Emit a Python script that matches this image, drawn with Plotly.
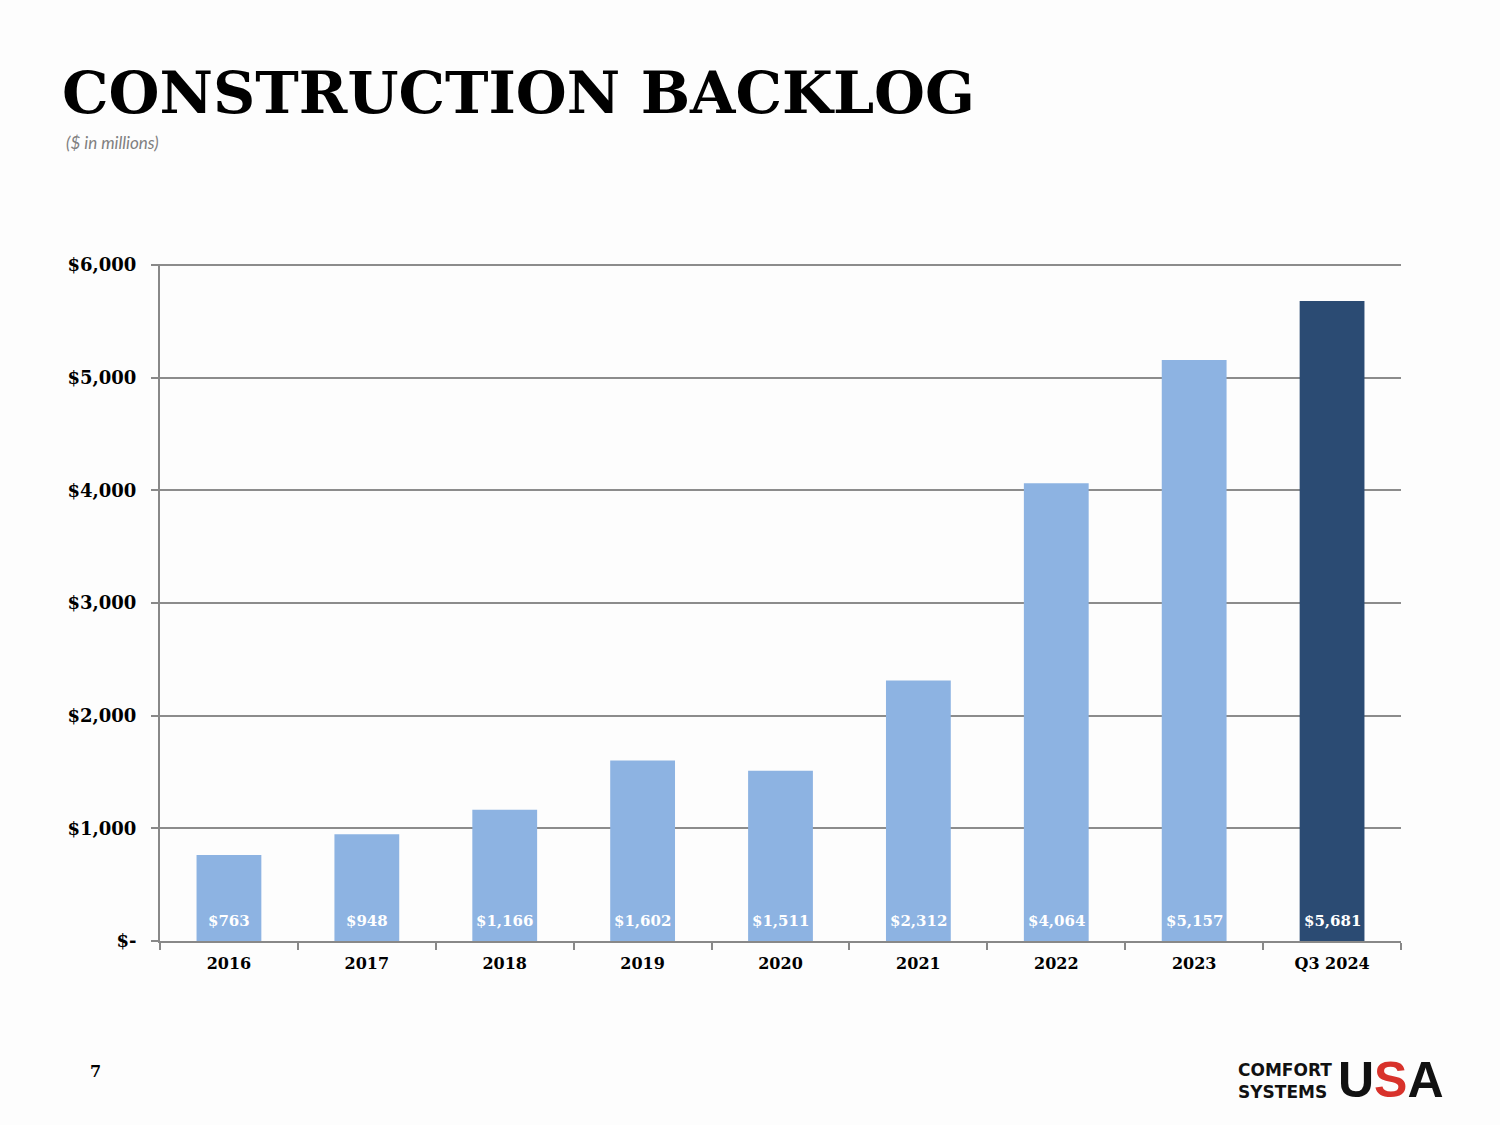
import plotly.graph_objects as go

categories = ["2016", "2017", "2018", "2019", "2020", "2021", "2022", "2023", "Q3 2024"]
backlog = [763, 948, 1166, 1602, 1511, 2312, 4064, 5157, 5681]
value_labels = ["$763", "$948", "$1,166", "$1,602", "$1,511", "$2,312", "$4,064", "$5,157", "$5,681"]
y_ticks = [0, 1000, 2000, 3000, 4000, 5000, 6000]
y_tick_labels = ["$-", "$1,000", "$2,000", "$3,000", "$4,000", "$5,000", "$6,000"]

LIGHT = "#8DB3E2"
DARK = "#2B4B73"
bar_colors = [LIGHT] * (len(categories) - 1) + [DARK]

SERIF = "DejaVu Serif"
L, R, T, B = 160, 99, 264, 184
PW, PH = 1500 - L - R, 1125 - T - B

fig = go.Figure()
fig.add_trace(go.Bar(
    x=categories, y=backlog, marker=dict(color=bar_colors, line=dict(width=0)),
    hoverinfo="x+y", showlegend=False,
))

for i, lab in enumerate(value_labels):
    fig.add_annotation(x=i, y=0, xref="x", yref="y", text=lab,
                       showarrow=False, yanchor="middle", yshift=20,
                       font=dict(family=SERIF, size=15, color="white", weight="bold"))

fig.update_layout(
    width=1500, height=1125,
    paper_bgcolor="#FDFDFD", plot_bgcolor="#FDFDFD",
    margin=dict(l=L, r=R, t=T, b=B),
    bargap=0.53,
    font=dict(family=SERIF, color="black"),
    xaxis=dict(
        type="category", showline=True, linecolor="#888888", linewidth=2,
        ticks="outside", tickson="boundaries", ticklen=7, tickcolor="#888888", tickwidth=2,
        tickfont=dict(family=SERIF, size=16, color="black", weight="bold"),
        showgrid=False, ticklabelstandoff=7,
    ),
    yaxis=dict(
        range=[0, 6010], tickvals=y_ticks, ticktext=y_tick_labels,
        showline=True, linecolor="#888888", linewidth=2,
        ticks="outside", ticklen=7, tickcolor="#888888", tickwidth=2,
        showgrid=True, gridcolor="#8C8C8C", gridwidth=1.5,
        tickfont=dict(family=SERIF, size=18, color="black", weight="bold"),
        zeroline=False, ticklabelstandoff=11,
    ),
)

def px(xp):
    return (xp - L) / PW

def py(yp):
    return (1125 - B - yp) / PH

# Title and subtitle
fig.add_annotation(xref="paper", yref="paper", x=px(60), y=py(92),
                   text="CONSTRUCTION BACKLOG", showarrow=False,
                   xanchor="left", yanchor="middle",
                   font=dict(family=SERIF, size=58.5, color="black", weight="bold"))
fig.add_annotation(xref="paper", yref="paper", x=px(64), y=py(142),
                   text="<i>($ in millions)</i>", showarrow=False,
                   xanchor="left", yanchor="middle",
                   font=dict(family="Lato", size=17, color="#808080"))

# page number
fig.add_annotation(xref="paper", yref="paper", x=px(95), y=py(1071),
                   text="7", showarrow=False, xanchor="center", yanchor="middle",
                   font=dict(family=SERIF, size=16, color="black", weight="bold"))

# logo
fig.add_annotation(xref="paper", yref="paper", x=px(1334), y=py(1081),
                   text="COMFORT<br>SYSTEMS", showarrow=False, xanchor="right", yanchor="middle",
                   align="left",
                   font=dict(family="DejaVu Sans", size=17, color="#111111", weight="bold"))
fig.add_annotation(xref="paper", yref="paper", x=px(1336), y=py(1080),
                   text="U<span style='color:#D8322B'>S</span>A", showarrow=False,
                   xanchor="left", yanchor="middle",
                   font=dict(family="Liberation Sans", size=50, color="#111111", weight="bold"))

fig.write_html("out.html", config={"displayModeBar": False},
               post_script="document.body.style.margin='0px';")
